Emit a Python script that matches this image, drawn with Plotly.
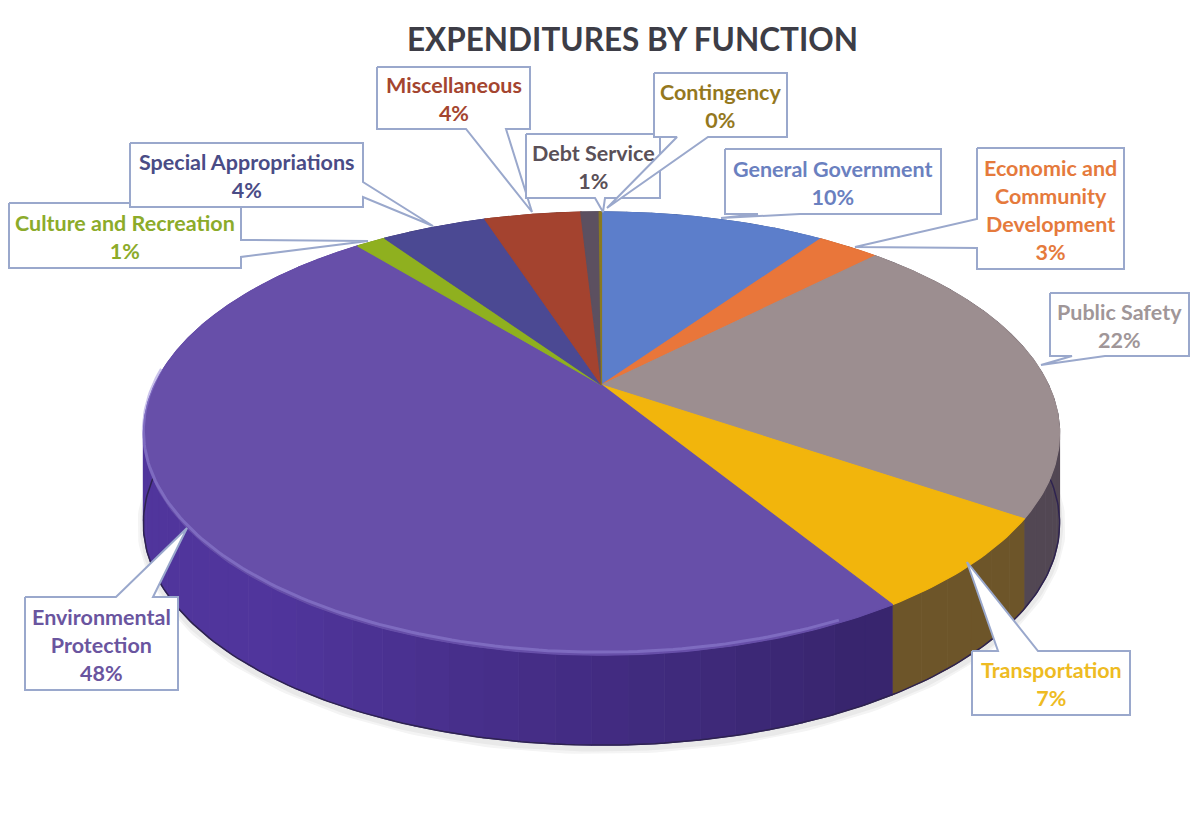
import math
import plotly.graph_objects as go

# ---------- data ----------
categories = ["General Government", "Economic and<br>Community<br>Development", "Public Safety",
              "Transportation", "Environmental<br>Protection", "Culture and Recreation",
              "Special Appropriations", "Miscellaneous", "Debt Service", "Contingency"]
slice_values = [9.8, 2.7, 21.9, 6.7, 47.9, 1.3, 4.6, 4.2, 0.8, 0.1]
printed_percent = [10, 3, 22, 7, 48, 1, 4, 4, 1, 0]

# ---------- styles ----------
top_colors = ["#5c7ecb", "#e9763a", "#9c8e90", "#f2b50c", "#674fa9",
              "#8fb01f", "#4b4993", "#a4432f", "#5c5060", "#8a7a20"]
wall_colors = ["#3f5a94", "#a5522a", "#574b58", "#735a2c", "#50359c",
               "#66801a", "#352f6a", "#7a3022", "#40384a", "#5c5220"]
label_colors = ["#6a80bf", "#e57a3c", "#a09698", "#eebb22", "#6a559f",
                "#8cab2a", "#4a4c86", "#a4452f", "#5a5058", "#94781e"]
border = "#9aa8cc"

# projection of the pie disc
CX, CY, RX, RY, K, DEPTH = 601.5, 385, 447, 211, 0.219, 90


def project(pct, dy=0.0, scale=1.0):
    a = 2 * math.pi * pct / 100
    u, v = math.sin(a) * scale, math.cos(a) * scale
    w = 1 + K * v
    return CX + RX * u / w, CY - RY * v / w + dy


def arc(p0, p1, dy=0.0, scale=1.0, step=0.25):
    n = max(2, int((p1 - p0) / step) + 1)
    pts = [project(p0 + (p1 - p0) * i / (n - 1), dy, scale) for i in range(n)]
    return [p[0] for p in pts], [p[1] for p in pts]


def shade(hex_color, f):
    r, g, b = (int(hex_color[i:i + 2], 16) for i in (1, 3, 5))
    return f"rgb({int(r * f)},{int(g * f)},{int(b * f)})"


fig = go.Figure()


def poly(xs, ys, fill, line=None, width=0):
    fig.add_trace(go.Scatter(x=xs, y=ys, mode="lines", fill="toself", fillcolor=fill,
                             line=dict(color=line or fill, width=width if line else 1.2),
                             hoverinfo="skip", showlegend=False))


# soft shadow under the pie
for w_, c_ in ((12, "#f4f4f4"), (7, "#e9e9e9")):
    sx, sy = arc(18, 92, DEPTH + 3)
    fig.add_trace(go.Scatter(x=sx, y=sy, mode="lines", line=dict(color=c_, width=w_),
                             hoverinfo="skip", showlegend=False))

# side wall, chunked for shading
cum = 0.0
starts = []
for v in slice_values:
    starts.append(cum)
    cum += v

for s, v, col in zip(starts, slice_values, wall_colors):
    n = max(1, int(v / 1.0))
    for i in range(n):
        p0, p1 = s + v * i / n, s + v * (i + 1) / n
        mid = (p0 + p1) / 2
        # darker towards the lower right of the wall, brighter on the far left
        f = 0.70 + 0.30 * min(1.0, abs(mid - 42) / 18) if 41 <= mid <= 90 else 0.95
        x0, y0 = arc(p0, p1)
        x1, y1 = arc(p0, p1, DEPTH)
        poly(x0 + x1[::-1], y0 + y1[::-1], shade(col, min(f, 1.0)))

# dark bottom edge
ex, ey = arc(18, 92, DEPTH)
fig.add_trace(go.Scatter(x=ex, y=ey, mode="lines", line=dict(color="#2e2350", width=1.5),
                         hoverinfo="skip", showlegend=False))

# top face
for s, v, col in zip(starts, slice_values, top_colors):
    xa, ya = arc(s, s + v)
    poly([CX] + xa + [CX], [CY] + ya + [CY], col)

# rim highlight on the environmental slice
hx, hy = arc(43, 76, -3)
fig.add_trace(go.Scatter(x=hx, y=hy, mode="lines", line=dict(color="rgba(150,135,215,0.5)", width=3),
                         hoverinfo="skip", showlegend=False))

# ---------- callouts: box corners, pointer base points and pointer tip ----------
callouts = {
    5: dict(box=(9, 203, 241, 268), side="right", base=(240, 257), tip=(368, 241)),
    6: dict(box=(130, 143, 363, 207), side="right", base=(182, 197), tip=(433, 226)),
    7: dict(box=(377, 67, 530, 129), side="bottom", base=(466, 506), tip=(532, 212)),
    8: dict(box=(526, 134, 660, 198), side="bottom", base=(595, 605), tip=(603, 212)),
    9: dict(box=(654, 73, 787, 137), side="bottom", base=(677, 708), tip=(607, 208)),
    0: dict(box=(725, 149, 941, 214), side="bottom", base=(758, 800), tip=(721, 218)),
    1: dict(box=(977, 148, 1124, 269), side="left", base=(219, 248), tip=(855, 247)),
    2: dict(box=(1050, 293, 1189, 356), side="bottom", base=(1072, 1105), tip=(1041, 365)),
    3: dict(box=(972, 651, 1130, 715), side="top", base=(998, 1038), tip=(967, 562)),
    4: dict(box=(25, 597, 178, 690), side="top", base=(116, 153), tip=(187, 528)),
}

annotations = []
for idx, c in callouts.items():
    x0, y0, x1, y1 = c["box"]
    b0, b1 = c["base"]
    tx, ty = c["tip"]
    if c["side"] == "bottom":
        xs = [x0, x1, x1, b1, tx, b0, x0, x0]
        ys = [y0, y0, y1, y1, ty, y1, y1, y0]
    elif c["side"] == "top":
        xs = [x0, b0, tx, b1, x1, x1, x0, x0]
        ys = [y0, y0, ty, y0, y0, y1, y1, y0]
    elif c["side"] == "left":
        xs = [x0, x1, x1, x0, x0, tx, x0, x0]
        ys = [y0, y0, y1, y1, b1, ty, b0, y0]
    else:
        xs = [x0, x1, x1, tx, x1, x1, x0, x0]
        ys = [y0, y0, b0, ty, b1, y1, y1, y0]
    poly(xs, ys, "#ffffff", border, 2)
    text = f"{categories[idx]}<br>{printed_percent[idx]}%"
    annotations.append(dict(x=(x0 + x1) / 2, y=(y0 + y1) / 2 + 1, xref="x", yref="y", text=text,
                            showarrow=False, align="center", xanchor="center", yanchor="middle",
                            font=dict(family="Lato", size=21.5, color=label_colors[idx], weight="bold")))

annotations.append(dict(x=632, y=39, xref="x", yref="y", text="EXPENDITURES BY FUNCTION", showarrow=False,
                        font=dict(family="Lato", size=31.5, color="#3d3d46", weight="bold")))

fig.update_layout(
    width=1192, height=829, margin=dict(l=0, r=0, t=0, b=0),
    paper_bgcolor="#ffffff", plot_bgcolor="#ffffff", showlegend=False,
    xaxis=dict(range=[0, 1192], visible=False, fixedrange=True),
    yaxis=dict(range=[829, 0], visible=False, fixedrange=True),
    annotations=annotations,
)
fig.write_html("out.html", post_script="document.body.style.margin='0';document.body.style.overflow='hidden';",
               config=dict(displayModeBar=False))
